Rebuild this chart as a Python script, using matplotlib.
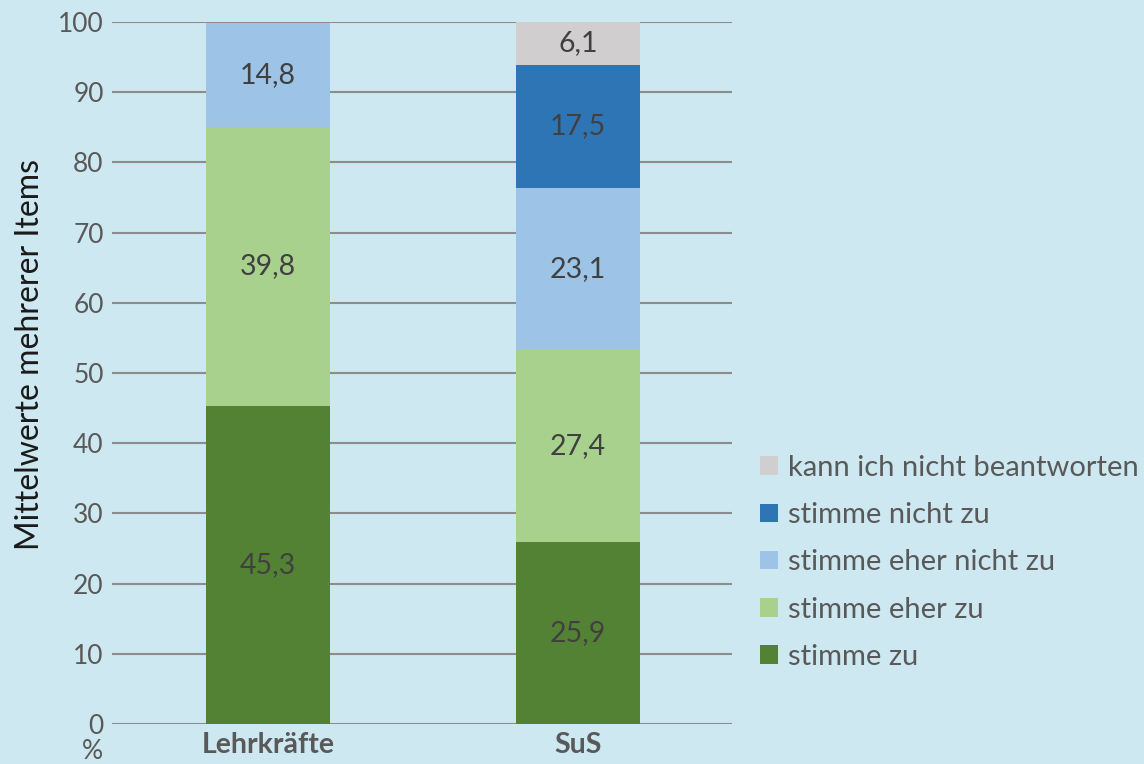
import matplotlib
matplotlib.use("Agg")
from matplotlib import pyplot as plt
from matplotlib import patches as patches

groups = ["Lehrkräfte", "SuS"]
series_names = ["stimme zu", "stimme eher zu", "stimme eher nicht zu",
                "stimme nicht zu", "kann ich nicht beantworten"]
stimme_zu = [45.3, 25.9]
eher_zu = [39.8, 27.4]
eher_nicht_zu = [14.8, 23.1]
nicht_zu = [0.0, 17.5]
kann_nicht = [0.0, 6.1]
colors = ["#548235", "#A9D18E", "#9DC3E6", "#2E75B6", "#D0CECE"]
yticks = [0, 10, 20, 30, 40, 50, 60, 70, 80, 90, 100]

bg = "#CDE8F0"
txt = "#595959"

plt.rcParams["font.family"] = ["Lato", "DejaVu Sans"]
plt.rcParams["font.size"] = 16

fig = plt.figure(figsize=(11.44, 7.64), dpi=100, facecolor=bg)
ax = fig.add_axes([112/1144, 40/764, 620/1144, 702/764])
ax.set_facecolor(bg)

x = list(range(len(groups)))
bottom = [0.0, 0.0]
handles = []
for name, vals, c in zip(series_names,
                         [stimme_zu, eher_zu, eher_nicht_zu, nicht_zu, kann_nicht],
                         colors):
    bars = ax.bar(x, vals, width=0.4, bottom=bottom, color=c, zorder=3, label=name)
    for xi, v, b in zip(x, vals, bottom):
        if v > 0:
            ax.text(xi, b + v / 2, f"{v:.1f}".replace(".", ","), ha="center",
                    va="center", fontsize=20.5, color="#404040", zorder=4)
    bottom = [b + v for b, v in zip(bottom, vals)]
    handles.append(bars)

ax.set_xlim(-0.503, 1.497)
ax.set_ylim(0, 100)
ax.set_yticks(yticks)
ax.yaxis.grid(True, color="#8C8C8C", linewidth=1.5, zorder=1)
ax.set_axisbelow(True)
for s in ["left", "right", "top", "bottom"]:
    ax.spines[s].set_visible(False)
ax.tick_params(axis="y", length=0, pad=6, labelsize=19, labelcolor=txt)
ax.tick_params(axis="x", length=0, pad=6, labelsize=20.5, labelcolor=txt)
ax.set_xticks(x)
ax.set_xticklabels(groups, fontweight="bold")
fig.text(30/1144, 1 - 354/764, "Mittelwerte mehrerer Items", rotation=90,
         ha="center", va="center", fontsize=23, color="#1a1a1a")
ax.text(-0.567, -3.9, "%", ha="center", va="center", fontsize=19, color=txt,
        transform=ax.transData, clip_on=False)

leg = ax.legend(handles=handles[::-1], labels=series_names[::-1],
                loc="upper left", bbox_to_anchor=(1.027, 0.40), frameon=False,
                fontsize=21, labelcolor=txt, handlelength=0.6, handleheight=0.6,
                handletextpad=0.35, labelspacing=0.73, borderaxespad=0)

plt.savefig("out.png", dpi=100, facecolor=bg)
